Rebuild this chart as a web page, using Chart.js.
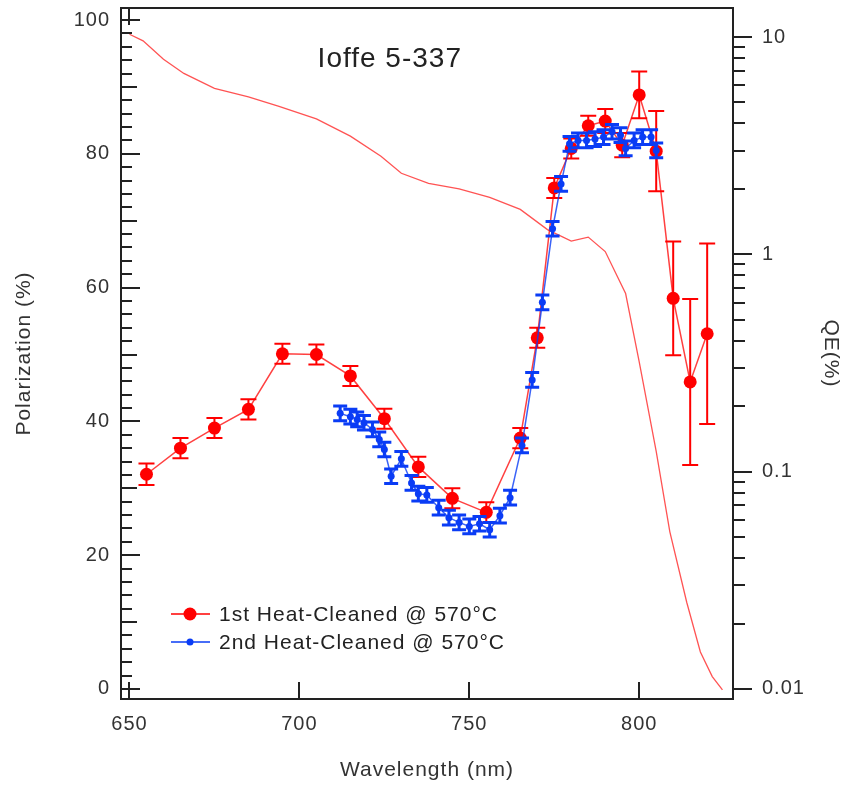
<!DOCTYPE html>
<html>
<head>
<meta charset="utf-8">
<script src="https://cdn.jsdelivr.net/npm/chart.js@4.4.1/dist/chart.umd.min.js"></script>
<style>
  html, body { margin: 0; padding: 0; background: #fff; }
  #wrap { width: 847px; height: 787px; position: relative; }
</style>
</head>
<body>
<div id="wrap"><canvas id="chart"></canvas></div>
<script>
// tick labels
const waveTicks = [650, 700, 750, 800];
const polTicks = [0, 20, 40, 60, 80, 100];
const qeTicks = [0.01, 0.1, 1, 10];

// 1st heat-cleaning (red dots)
const redWave = [655, 665, 675, 685, 695, 705, 715, 725, 735, 745, 755, 765, 770, 775, 780, 785, 790, 795, 800, 805, 810, 815, 820];
const redPol = [32.1, 36.0, 39.0, 41.8, 50.1, 50.0, 46.8, 40.4, 33.2, 28.5, 26.4, 37.5, 52.5, 74.9, 80.8, 84.2, 84.9, 81.3, 88.8, 80.4, 58.4, 45.9, 53.1];
const redErr = [1.6, 1.5, 1.5, 1.5, 1.5, 1.5, 1.5, 1.5, 1.5, 1.5, 1.5, 1.5, 1.5, 1.5, 1.5, 1.5, 1.8, 1.8, 3.5, 6.0, 8.5, 12.4, 13.5];

// 2nd heat-cleaning (blue)
const blueWave = [712, 715, 717, 719, 721.5, 723.5, 725, 727, 730, 733, 735, 737.5, 741, 744, 747, 750, 753, 756, 759, 762, 765.5, 768.5, 771.5, 774.5, 777, 779.5, 782, 784.5, 787, 789.5, 792, 794.5, 796, 798.5, 801, 803.5, 805];
const bluePol = [41.2, 40.7, 40.3, 39.8, 38.8, 37.3, 35.8, 31.8, 34.4, 30.8, 29.2, 29.0, 27.1, 25.6, 24.9, 24.3, 24.7, 23.8, 25.9, 28.6, 36.4, 46.2, 57.8, 68.8, 75.5, 81.5, 82.0, 82.0, 82.2, 82.5, 83.3, 82.8, 80.8, 82.0, 82.5, 82.5, 80.5];
const blueErr = 1.1;

// quantum efficiency (right axis, log)
const qeWave = [650, 654, 660, 666, 675, 685, 694, 705, 715, 724, 730, 738, 747, 756, 765, 773, 780, 785, 790, 796, 800, 805, 809, 814, 818, 821.5, 824.5];
const qeVal = [10.3, 9.6, 7.9, 6.8, 5.8, 5.3, 4.8, 4.2, 3.5, 2.83, 2.36, 2.12, 2.0, 1.83, 1.61, 1.30, 1.15, 1.20, 1.03, 0.66, 0.32, 0.124, 0.053, 0.025, 0.0148, 0.0114, 0.0099];

const FONT = "'Liberation Sans', Arial, sans-serif";
const RED = '#ff0000';
const BLUE = '#0a3cf5';

function pts(xs, ys) {
  return xs.map((x, i) => ({ x: x, y: ys[i] }));
}

// the original text is a bit wider than Arial
const spacing = {
  id: 'spacing',
  beforeDraw(chart) { chart.ctx.letterSpacing = '1px'; }
};

const errorBars = {
  id: 'errorBars',
  beforeDatasetDraw(chart, args) {
    const ds = chart.data.datasets[args.index];
    if (!ds.errors) return;
    const { ctx, chartArea: a } = chart;
    const xs = chart.scales.x, ys = chart.scales.y;
    ctx.save();
    ctx.beginPath();
    ctx.rect(a.left, a.top, a.right - a.left, a.bottom - a.top);
    ctx.clip();
    ctx.strokeStyle = ds.errColor;
    ctx.lineWidth = ds.errWidth;
    ctx.beginPath();
    ds.data.forEach((p, i) => {
      const e = Array.isArray(ds.errors) ? ds.errors[i] : ds.errors;
      const px = xs.getPixelForValue(p.x);
      const top = ys.getPixelForValue(p.y + e);
      const bot = ys.getPixelForValue(p.y - e);
      ctx.moveTo(px, top); ctx.lineTo(px, bot);
      ctx.moveTo(px - ds.capW, top); ctx.lineTo(px + ds.capW, top);
      ctx.moveTo(px - ds.capW, bot); ctx.lineTo(px + ds.capW, bot);
    });
    ctx.stroke();
    ctx.restore();
  }
};

const frame = {
  id: 'frame',
  afterDraw(chart) {
    const { ctx, chartArea: a, scales } = chart;
    const x = scales.x, y = scales.y, q = scales.q;
    ctx.save();
    ctx.strokeStyle = '#222';
    ctx.lineWidth = 2;
    ctx.strokeRect(a.left, a.top, a.right - a.left, a.bottom - a.top);
    ctx.beginPath();
    // left axis ticks, inside
    for (let v = 0; v <= 100; v += 2) {
      const py = Math.round(y.getPixelForValue(v));
      const len = v % 20 === 0 ? 19 : (v % 10 === 0 ? 16 : 11);
      ctx.moveTo(a.left, py); ctx.lineTo(a.left + len, py);
    }
    // bottom ticks, inside
    waveTicks.forEach(v => {
      const px = Math.round(x.getPixelForValue(v));
      ctx.moveTo(px, a.bottom); ctx.lineTo(px, a.bottom - 17);
    });
    const p650 = Math.round(x.getPixelForValue(650));
    ctx.moveTo(p650, a.top); ctx.lineTo(p650, a.top + 17);
    // right log axis ticks, outside
    [0.01, 0.1, 1, 10].forEach(d => {
      for (let m = 1; m <= 9; m++) {
        const v = d * m;
        if (v > q.max || v < q.min) continue;
        const py = Math.round(q.getPixelForValue(v));
        ctx.moveTo(a.right, py); ctx.lineTo(a.right + (m === 1 ? 19 : 12), py);
      }
    });
    ctx.stroke();

    // chart title inside plot
    ctx.fillStyle = '#222';
    ctx.letterSpacing = '1px';
    ctx.font = '28px ' + FONT;
    ctx.textAlign = 'center';
    ctx.textBaseline = 'middle';
    ctx.fillText('Ioffe 5-337', x.getPixelForValue(726.6), y.getPixelForValue(94.2));

    // legend
    const items = [
      { text: '1st Heat-Cleaned @ 570°C', color: RED, r: 6.5, ly: 614 },
      { text: '2nd Heat-Cleaned @ 570°C', color: BLUE, r: 3.5, ly: 642 }
    ];
    ctx.font = '21px ' + FONT;
    ctx.textAlign = 'left';
    items.forEach(it => {
      ctx.strokeStyle = it.color;
      ctx.lineWidth = 1.5;
      ctx.beginPath();
      ctx.moveTo(171, it.ly); ctx.lineTo(210, it.ly);
      ctx.stroke();
      ctx.fillStyle = it.color;
      ctx.beginPath();
      ctx.arc(190, it.ly, it.r, 0, Math.PI * 2);
      ctx.fill();
      ctx.fillStyle = '#222';
      ctx.fillText(it.text, 219, it.ly + 1);
    });
    ctx.restore();
  }
};

const fixedTicks = list => s => { s.ticks = list.map(v => ({ value: v })); };

new Chart(document.getElementById('chart').getContext('2d'), {
  type: 'scatter',
  data: {
    datasets: [
      {
        label: '2nd Heat-Cleaned @ 570°C',
        data: pts(blueWave, bluePol),
        yAxisID: 'y',
        showLine: true,
        borderColor: 'rgba(10,60,245,0.8)',
        borderWidth: 1.5,
        backgroundColor: BLUE,
        pointRadius: 3.5,
        pointBorderWidth: 0,
        errors: blueErr,
        errColor: BLUE,
        errWidth: 3,
        capW: 7,
        order: 0
      },
      {
        label: '1st Heat-Cleaned @ 570°C',
        data: pts(redWave, redPol),
        yAxisID: 'y',
        showLine: true,
        borderColor: 'rgba(255,0,0,0.75)',
        borderWidth: 1.5,
        backgroundColor: RED,
        pointRadius: 6.5,
        pointBorderWidth: 0,
        errors: redErr,
        errColor: RED,
        errWidth: 2,
        capW: 8,
        order: 1
      },
      {
        label: 'QE',
        data: pts(qeWave, qeVal),
        yAxisID: 'q',
        showLine: true,
        borderColor: 'rgba(255,40,40,0.8)',
        borderWidth: 1.3,
        pointRadius: 0,
        order: 2
      }
    ]
  },
  options: {
    responsive: true,
    maintainAspectRatio: false,
    animation: false,
    layout: { padding: { top: 8, left: 0, right: 0, bottom: 0 } },
    plugins: {
      legend: { display: false },
      tooltip: { enabled: false }
    },
    scales: {
      x: {
        type: 'linear',
        min: 647.5,
        max: 827.6,
        afterBuildTicks: fixedTicks(waveTicks),
        afterFit: s => { s.height = 88; s.paddingLeft = 0; s.paddingRight = 0; },
        grid: { display: false, drawTicks: false },
        border: { display: false },
        ticks: { padding: 13, color: '#333', maxRotation: 0, font: { family: FONT, size: 20 } },
        title: { display: true, text: 'Wavelength (nm)', color: '#333', font: { family: FONT, size: 21 }, padding: { top: 0, bottom: 4 } }
      },
      y: {
        type: 'linear',
        position: 'left',
        min: -1.5,
        max: 101.8,
        afterBuildTicks: fixedTicks(polTicks),
        afterFit: s => { s.width = 121; s.paddingTop = 0; s.paddingBottom = 0; },
        grid: { display: false, drawTicks: false },
        border: { display: false },
        ticks: { padding: 11, color: '#333', font: { family: FONT, size: 20 } },
        title: { display: true, text: 'Polarization (%)', color: '#333', font: { family: FONT, size: 21 }, padding: { top: 12, bottom: 0 } }
      },
      q: {
        type: 'logarithmic',
        position: 'right',
        min: 0.00899,
        max: 13.6,
        afterBuildTicks: fixedTicks(qeTicks),
        afterFit: s => { s.width = 114; s.paddingTop = 0; s.paddingBottom = 0; },
        grid: { display: false, drawTicks: false },
        border: { display: false },
        ticks: { padding: 29, color: '#333', font: { family: FONT, size: 20 }, callback: v => String(v) },
        title: { display: true, text: 'QE(%)', color: '#333', font: { family: FONT, size: 21 }, padding: { top: 4, bottom: 0 } }
      }
    }
  },
  plugins: [spacing, errorBars, frame]
});
</script>
</body>
</html>
